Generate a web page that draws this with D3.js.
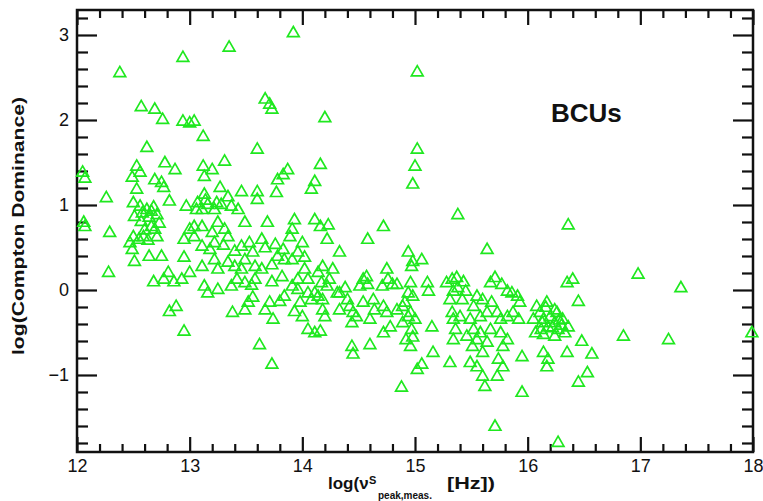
<!DOCTYPE html>
<html>
<head>
<meta charset="utf-8">
<script src="https://cdn.jsdelivr.net/npm/d3@7"></script>
<style>
  body { margin: 0; background: #fff; }
  svg { display: block; font-family: "Liberation Sans", Arial, sans-serif; }
</style>
</head>
<body>
<div id="chart"></div>
<script>
// log(nu_peak) of each BCU
var logNuPeak = [
  12.05,12.07,12.06,12.07,12.26,12.29,12.28,12.38,12.57,12.69,12.76,12.62,12.53,12.49,12.56,12.78,
  12.87,12.69,12.75,12.77,12.50,12.56,12.62,12.66,12.71,12.51,12.57,12.64,12.82,12.69,12.71,12.66,
  12.50,12.55,12.59,12.47,12.49,12.51,12.64,12.75,12.95,13.00,13.04,13.04,12.95,12.68,12.77,12.81,
  12.86,12.93,13.00,12.82,12.88,12.95,12.94,12.94,13.00,13.04,12.97,13.06,12.53,
  13.12,13.13,13.20,13.12,13.35,13.31,13.27,13.13,13.34,13.46,13.60,13.60,13.77,13.60,13.67,13.71,
  13.73,13.83,13.78,13.87,13.92,14.08,14.11,14.16,14.20,13.07,13.11,13.16,13.22,13.28,13.37,13.43,
  13.11,13.25,13.31,13.20,13.49,13.69,13.93,13.91,13.89,14.11,14.16,14.22,13.11,13.18,13.22,13.34,
  13.46,13.40,13.53,13.64,13.67,13.76,13.78,13.84,13.91,13.96,14.02,13.11,13.22,13.25,13.34,13.46,
  13.49,13.58,13.64,13.73,14.02,14.05,14.14,14.17,14.11,13.13,13.25,13.37,13.49,13.58,13.73,13.82,
  13.91,13.96,13.16,13.38,13.49,13.52,13.56,13.67,13.71,13.74,13.80,13.84,13.96,13.93,14.00,14.05,
  14.08,14.05,14.11,14.16,13.62,13.73,14.00,13.56,13.83,13.42,13.98,14.18,14.27,14.24,14.22,14.14,
  14.18,14.31,14.23,14.18,14.20,
  14.33,14.58,14.72,15.02,15.00,14.98,15.02,15.38,14.94,14.98,15.06,14.57,14.58,14.51,14.75,14.76,
  14.71,14.80,14.96,14.94,14.98,15.11,15.12,15.28,15.33,15.34,15.31,14.33,14.40,14.33,14.42,14.45,
  14.44,14.54,14.63,14.64,14.60,14.75,14.84,14.89,14.96,15.00,14.89,14.78,14.72,14.97,14.98,14.96,
  15.15,15.34,15.36,14.44,14.45,14.60,15.06,15.16,15.31,14.88,15.02,14.91,14.94,14.92,15.37,15.43,
  15.38,15.33,15.40,15.49,15.34,15.46,14.48,14.72,14.54,14.84,14.97,
  15.64,15.55,15.60,15.52,15.58,15.64,15.52,15.58,15.55,15.51,15.60,15.49,15.55,15.60,15.62,15.67,
  15.71,15.77,15.82,15.86,15.91,15.93,15.73,15.76,15.82,15.87,15.92,15.76,15.82,15.78,15.74,15.78,
  15.73,15.95,15.67,15.64,15.71,15.95,16.08,16.16,16.17,16.24,16.26,16.11,16.14,16.20,16.31,16.36,
  16.13,16.18,16.24,16.27,16.33,16.07,16.24,16.14,16.05,16.14,16.18,16.17,16.35,16.36,16.35,16.40,
  16.45,16.48,16.57,16.53,16.45,16.27,16.98,17.36,16.85,17.25,17.99,
  12.60,12.63,12.58,12.68,12.73,13.14,13.24,13.40,13.55,13.30,14.38,15.45,15.42,15.68,16.22,16.28,
  16.12,16.30
];

// log(Compton dominance), same order
var logCD = [
  1.38,1.31,0.79,0.74,1.08,0.67,0.20,2.55,2.15,2.12,2.00,1.67,1.45,1.32,1.38,1.49,
  1.41,1.29,1.26,1.20,1.02,0.98,0.94,0.92,0.88,0.86,0.80,0.85,1.04,0.71,0.62,0.74,
  0.62,0.59,0.62,0.55,0.47,0.33,0.39,0.39,0.59,0.71,0.74,0.62,0.38,0.09,0.12,0.20,
  0.09,0.12,0.20,-0.26,-0.20,-0.49,2.73,1.98,1.96,1.98,0.98,0.94,1.18,
  1.45,1.33,1.41,1.80,2.85,1.51,1.20,1.12,1.09,1.15,1.15,1.06,1.14,1.65,2.24,2.18,
  2.12,1.35,1.29,1.41,3.02,1.18,1.27,1.47,2.02,1.02,0.94,1.00,0.94,1.00,0.98,0.94,
  0.74,0.79,0.71,0.67,0.79,0.79,0.82,0.71,0.62,0.82,0.74,0.59,0.51,0.47,0.55,0.62,
  0.51,0.45,0.55,0.59,0.49,0.53,0.39,0.35,0.35,0.44,0.38,0.27,0.35,0.24,0.32,0.24,
  0.35,0.27,0.24,0.29,0.24,0.12,0.20,0.08,-0.04,0.04,0.00,0.04,0.08,0.12,0.09,0.15,
  0.04,0.12,-0.04,-0.27,-0.24,-0.15,-0.09,-0.24,-0.15,-0.35,-0.14,-0.08,0.00,-0.26,-0.32,-0.04,
  -0.12,-0.47,-0.51,-0.49,-0.65,-0.88,0.55,0.44,0.47,0.12,-0.15,0.27,0.24,0.12,0.04,-0.08,
  -0.12,-0.04,0.76,-0.24,-0.32,
  0.44,0.59,0.74,1.65,1.45,1.24,2.56,0.88,0.44,0.33,0.35,0.15,0.06,0.04,0.24,0.12,
  0.04,0.06,0.08,-0.04,-0.08,0.08,-0.02,0.08,0.12,-0.02,-0.12,-0.04,-0.12,-0.24,-0.20,-0.27,
  -0.39,-0.15,-0.12,-0.24,-0.35,-0.27,-0.24,-0.20,-0.27,-0.35,-0.39,-0.44,-0.51,-0.47,-0.56,-0.67,
  -0.44,-0.35,-0.47,-0.67,-0.76,-0.65,-0.88,-0.74,-0.86,-1.15,-0.94,-0.15,-0.32,-0.59,0.14,0.09,
  0.02,-0.27,-0.32,-0.35,-0.59,-0.55,-0.32,-0.20,0.12,0.06,0.27,
  0.47,-0.08,-0.12,-0.20,-0.32,-0.27,-0.47,-0.51,-0.59,-0.67,-0.74,-0.86,-0.91,-1.02,-1.14,0.08,
  0.14,0.06,-0.02,-0.04,-0.08,-0.15,-0.27,-0.35,-0.32,-0.27,-0.35,-0.51,-0.59,-0.67,-0.82,-0.91,
  -1.02,-0.79,-0.47,-0.62,-1.61,-1.21,-0.20,-0.21,-0.15,-0.24,-0.27,-0.27,-0.35,-0.32,-0.35,-0.44,
  -0.39,-0.44,-0.39,-0.47,-0.51,-0.51,-0.55,-0.53,-0.35,-0.74,-0.82,-0.91,-0.74,0.76,0.08,0.12,
  -0.14,-0.61,-0.76,-0.98,-1.09,-1.80,0.18,0.02,-0.55,-0.59,-0.51,
  0.70,0.58,0.90,0.97,0.78,1.05,1.02,0.27,0.05,0.52,0.02,-0.02,-0.12,-0.15,-0.45,-0.36,
  -0.47,-0.42
];

var xMajor = [12, 13, 14, 15, 16, 17, 18];
var yMajor = [-1, 0, 1, 2, 3];
var sampleLabel = "BCUs";

var width = 763, height = 501;
var margin = {top: 10, right: 10, bottom: 49, left: 77};
var innerW = width - margin.left - margin.right;
var innerH = height - margin.top - margin.bottom;

var svg = d3.select("#chart").append("svg")
    .attr("width", width)
    .attr("height", height);

var g = svg.append("g")
    .attr("transform", "translate(" + margin.left + "," + margin.top + ")");

var x = d3.scaleLinear().domain([12, 18]).range([0, innerW]);
var y = d3.scaleLinear().domain([-1.906, 3.294]).range([innerH, 0]);

// minor ticks every 0.2
var xMinor = d3.range(0, 31).filter(function(i) { return i % 5 !== 0; })
    .map(function(i) { return 12 + i * 0.2; });
var yMinor = d3.range(-9, 17).filter(function(i) { return i % 5 !== 0; })
    .map(function(i) { return i * 0.2; });

function styleAxis(sel) {
  sel.select(".domain").remove();
  sel.selectAll("line").attr("stroke", "#111").attr("stroke-width", 2.2);
  sel.selectAll("text").attr("fill", "#111").style("font-size", "18px");
}

// bottom / top
g.append("g").attr("transform", "translate(0," + innerH + ")")
  .call(d3.axisBottom(x).tickValues(xMajor).tickSize(-15).tickSizeOuter(0).tickPadding(7)
        .tickFormat(d3.format("d")))
  .call(styleAxis);
g.append("g").attr("transform", "translate(0," + innerH + ")")
  .call(d3.axisBottom(x).tickValues(xMinor).tickSize(-8).tickSizeOuter(0).tickFormat(""))
  .call(styleAxis);
g.append("g")
  .call(d3.axisTop(x).tickValues(xMajor).tickSize(-15).tickSizeOuter(0).tickFormat(""))
  .call(styleAxis);
g.append("g")
  .call(d3.axisTop(x).tickValues(xMinor).tickSize(-8).tickSizeOuter(0).tickFormat(""))
  .call(styleAxis);

// left / right
g.append("g")
  .call(d3.axisLeft(y).tickValues(yMajor).tickSize(-20).tickSizeOuter(0).tickPadding(8)
        .tickFormat(d3.format("d")))
  .call(styleAxis);
g.append("g")
  .call(d3.axisLeft(y).tickValues(yMinor).tickSize(-11).tickSizeOuter(0).tickFormat(""))
  .call(styleAxis);
g.append("g").attr("transform", "translate(" + innerW + ",0)")
  .call(d3.axisRight(y).tickValues(yMajor).tickSize(-20).tickSizeOuter(0).tickFormat(""))
  .call(styleAxis);
g.append("g").attr("transform", "translate(" + innerW + ",0)")
  .call(d3.axisRight(y).tickValues(yMinor).tickSize(-11).tickSizeOuter(0).tickFormat(""))
  .call(styleAxis);

// frame
g.append("rect")
  .attr("width", innerW).attr("height", innerH)
  .attr("fill", "none").attr("stroke", "#111").attr("stroke-width", 2.5);

// points
var tri = d3.symbol().type(d3.symbolTriangle).size(60);
g.append("g").selectAll("path")
  .data(logNuPeak)
  .enter().append("path")
  .attr("d", tri)
  .attr("transform", function(d, i) {
    return "translate(" + x(d) + "," + y(logCD[i]) + ")";
  })
  .attr("fill", "none")
  .attr("stroke", "#1fe81f")
  .attr("stroke-width", 1.7);

// label
svg.append("text")
  .attr("x", 551).attr("y", 122)
  .attr("font-weight", "bold").attr("font-size", 26).attr("fill", "#111")
  .text(sampleLabel);

// y title
svg.append("text")
  .attr("transform", "translate(24,226) rotate(-90)")
  .attr("text-anchor", "middle")
  .attr("font-weight", "bold").attr("font-size", 16).attr("fill", "#111")
  .attr("textLength", 258).attr("lengthAdjust", "spacingAndGlyphs")
  .text("log(Compton Dominance)");

// x title
var xt = svg.append("g").attr("font-weight", "bold").attr("fill", "#111");
xt.append("text").attr("x", 328).attr("y", 489).attr("font-size", 17).text("log(\u03bd");
xt.append("text").attr("x", 369).attr("y", 484).attr("font-size", 11).text("S");
xt.append("text").attr("x", 378).attr("y", 499).attr("font-size", 10).text("peak,meas.");
xt.append("text").attr("x", 447).attr("y", 489).attr("font-size", 17)
  .attr("textLength", 48).attr("lengthAdjust", "spacingAndGlyphs").text("[Hz])");
</script>
</body>
</html>
